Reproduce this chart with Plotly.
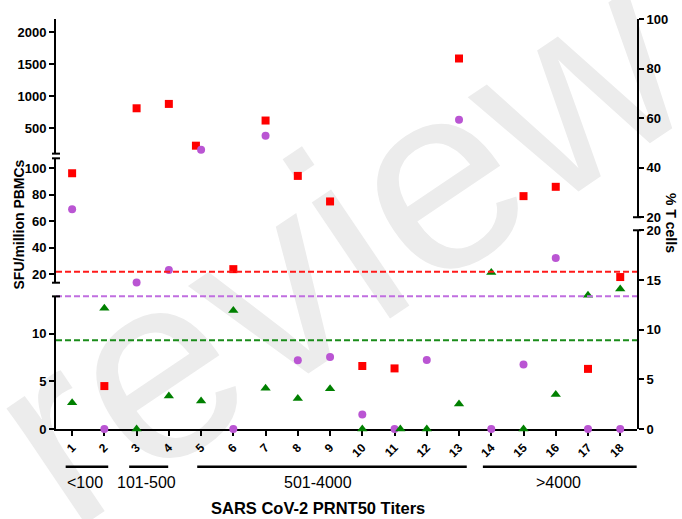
import plotly.graph_objects as go

# ---------------- data ----------------
patients = list(range(1, 19))
tick_labels = [str(p) for p in patients]

# SFU / million PBMCs (left, broken axis)
sfu_x = [1, 2, 3, 4, 4.84, 6, 7, 8, 9, 10, 11, 12, 13, 14, 15, 16, 17, 18]
sfu_vals = [96.1, 4.5, 810, 878, 227, 24.0, 619, 94.1, 74.9, 6.6, 6.35, 14.03,
            1586, 14.03, 78.9, 85.9, 6.3, 18.05]

# % T cells (right, broken axis)
purple_x = [1, 2, 3, 4, 5, 6, 7, 8, 9, 10, 11, 12, 13, 14, 15, 16, 17, 18]
purple_vals = [23.2, 0, 14.74, 16.0, 47.2, 0, 52.9, 6.92, 7.25, 1.47, 0, 6.95,
               59.3, 0, 6.49, 17.2, 0, 0]
green_x = [1, 2, 3, 4, 5, 6, 7, 8, 9, 10, 11.18, 12, 13, 14, 15, 16, 17, 18]
green_vals = [2.64, 12.16, 0, 3.31, 2.81, 11.93, 4.11, 3.08, 4.04, 0, 0, 0,
              2.51, 15.74, 0, 3.48, 13.46, 14.1]

thresholds = {"red": 15.83, "purple": 13.35, "green": 8.92}   # on % T cell scale

groups = ["<100", "101-500", "501-4000", ">4000"]
group_start = [1, 3, 5, 14]
group_end = [2, 4, 13, 18]

left_ticks_low = [0, 5, 10]
left_ticks_mid = [20, 40, 60, 80, 100]
left_ticks_top = [500, 1000, 1500, 2000]
right_ticks_low = [0, 5, 10, 15, 20]
right_ticks_top = [20, 40, 60, 80, 100]

RED = "#FF0000"
PURPLE = "#BA55D3"
GREEN = "#008000"
FONT = "Liberation Sans, Arial, sans-serif"

fig = go.Figure()


def add_series(xs, vals, split, axes, color, symbol, size):
    buckets = {a: ([], []) for a in axes}
    for x, v in zip(xs, vals):
        a = split(v)
        buckets[a][0].append(x)
        buckets[a][1].append(v)
    for a, (bx, by) in buckets.items():
        if not bx:
            continue
        fig.add_trace(go.Scatter(
            x=bx, y=by, mode="markers", xaxis="x", yaxis=a,
            marker=dict(color=color, symbol=symbol, size=size, line=dict(width=0)),
            cliponaxis=False, showlegend=False, hoverinfo="x+y"))


def split_left(v):
    if v < 14.5:
        return "y"
    if v <= 107:
        return "y2"
    return "y3"


def split_right(v):
    return "y4" if v <= 20 else "y5"


add_series(sfu_x, sfu_vals, split_left, ["y", "y2", "y3"], RED, "square", 8)
add_series(purple_x, purple_vals, split_right, ["y4", "y5"], PURPLE, "circle", 8)
add_series(green_x, green_vals, split_right, ["y4", "y5"], GREEN, "triangle-up", 9)

axis_common = dict(showline=True, linecolor="black", linewidth=2, ticks="outside",
                   ticklen=5, tickwidth=2, tickcolor="black", showgrid=False,
                   zeroline=False,
                   tickfont=dict(family=FONT, size=13, color="black", weight="bold"))

shapes = []
# watermark (drawn first, below everything)
cx, cy = (200 - 56) / 581, (429 - 305) / 412
shapes.append(dict(type="rect", xref="paper", yref="paper", x0=cx - 0.01, x1=cx + 0.01,
                   y0=cy - 0.01, y1=cy + 0.01, line=dict(width=0),
                   fillcolor="rgba(0,0,0,0)", layer="below",
                   label=dict(text="In review", textangle=-34, textposition="middle center",
                              font=dict(size=265, color="#ECECEC", family=FONT))))

# threshold lines
dash_colors = {"red": "#FF1A1A", "purple": "#C06EE0", "green": "#1A8C1A"}
for k, v in thresholds.items():
    shapes.append(dict(type="line", xref="paper", yref="y4", x0=0, x1=1, y0=v, y1=v,
                       line=dict(color=dash_colors[k], width=2, dash="6px,3px")))

# axis break caps
cw = 4 / 581
for yr, yv in [("y domain", 1), ("y2 domain", 0), ("y2 domain", 1), ("y3 domain", 0)]:
    shapes.append(dict(type="line", xref="paper", yref=yr, x0=-cw, x1=cw, y0=yv, y1=yv,
                       line=dict(color="black", width=2)))
for yr, yv in [("y4 domain", 1), ("y5 domain", 0)]:
    shapes.append(dict(type="line", xref="paper", yref=yr, x0=1 - cw, x1=1 + cw, y0=yv, y1=yv,
                       line=dict(color="black", width=2)))

# group brackets
pads = [(-0.2, 0.12), (-0.23, -0.02), (-0.12, 0.24), (-0.26, 0.51)]
for s, e, (p0, p1) in zip(group_start, group_end, pads):
    shapes.append(dict(type="line", xref="x", yref="paper", x0=s + p0, x1=e + p1,
                       y0=-38 / 412, y1=-38 / 412, line=dict(color="black", width=2.5)))

annotations = []
label_x = [1.4, 3.3, 8.63, 16.07]
for g, lx in zip(groups, label_x):
    annotations.append(dict(text=g, x=lx, xref="x", y=-54 / 412, yref="paper",
                            xanchor="center", yanchor="middle",
                            showarrow=False, font=dict(family=FONT, size=16, color="black")))
annotations.append(dict(text="SARS CoV-2 PRNT50 Titers", x=(318 - 56) / 581, xref="paper",
                        y=-79 / 412, yref="paper", showarrow=False,
                        xanchor="center", yanchor="middle",
                        font=dict(family=FONT, size=16.5, color="black", weight="bold")))
annotations.append(dict(text="SFU/million PBMCs", x=(19 - 56) / 581, xref="paper",
                        y=(429 - 223.5) / 412, yref="paper", showarrow=False, textangle=-90,
                        xanchor="center", yanchor="middle",
                        font=dict(family=FONT, size=14, color="black", weight="bold")))
annotations.append(dict(text="% T cells", x=(671 - 56) / 581, xref="paper",
                        y=(429 - 222) / 412, yref="paper", showarrow=False, textangle=90,
                        xanchor="center", yanchor="middle",
                        font=dict(family=FONT, size=14, color="black", weight="bold")))

fig.update_layout(
    width=682, height=519, margin=dict(l=56, r=45, t=17, b=90),
    paper_bgcolor="white", plot_bgcolor="rgba(0,0,0,0)",
    showlegend=False,
    xaxis=dict(domain=[0, 1], range=[0.5, 18.52], anchor="y", tickvals=patients,
               ticktext=tick_labels, tickangle=-45, showline=True, linecolor="black",
               linewidth=2, ticks="outside", ticklen=5, tickwidth=2, tickcolor="black",
               showgrid=False, zeroline=False,
               tickfont=dict(family=FONT, size=12, color="black", weight="bold")),
    yaxis=dict(domain=[0, 0.3235], range=[0, 13.9], anchor="x", side="left",
               tickvals=left_ticks_low, **axis_common),
    yaxis2=dict(domain=[0.3568, 0.6602], range=[13.79, 107.33], anchor="x", side="left",
                tickvals=left_ticks_mid, **axis_common),
    yaxis3=dict(domain=[0.6716, 1.0], range=[102.9, 2201.7], anchor="x", side="left",
                tickvals=left_ticks_top, **axis_common),
    yaxis4=dict(domain=[0, 0.4847], range=[0, 20], anchor="x", side="right",
                tickvals=right_ticks_low, **axis_common),
    yaxis5=dict(domain=[0.5165, 1.0], range=[20, 100], anchor="x", side="right",
                tickvals=right_ticks_top, **axis_common),
    shapes=shapes, annotations=annotations,
)

fig.write_html("out.html")
